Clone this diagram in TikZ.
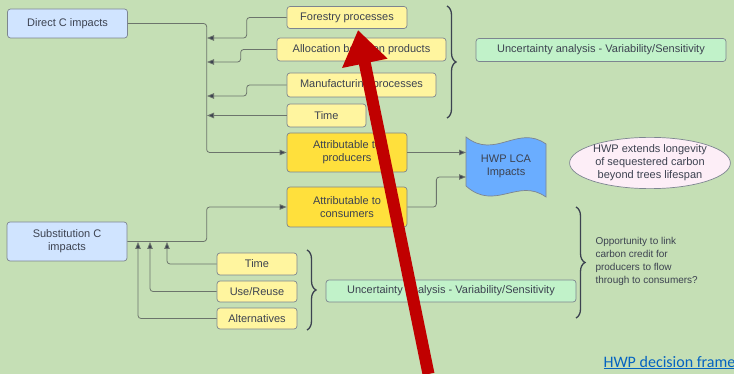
\documentclass[tikz,border=0pt]{standalone}
\usepackage{fontspec}
\setmainfont{Liberation Sans}
\newfontfamily\linkfont{Carlito}
\usetikzlibrary{arrows.meta,positioning,calc,decorations.pathreplacing,shapes.geometric}
\definecolor{cbg}{HTML}{C5DFB5}
\definecolor{ctext}{HTML}{3C4250}
\definecolor{cedge}{HTML}{7D8590}
\definecolor{cline}{HTML}{6C746C}
\definecolor{cblue}{HTML}{D0E4FF}
\definecolor{cyellow}{HTML}{FFF59F}
\definecolor{cgold}{HTML}{FFE03C}
\definecolor{cgreen}{HTML}{C1F2C9}
\definecolor{cwave}{HTML}{6AADFF}
\definecolor{cpink}{HTML}{FDEEF7}
\definecolor{cred}{HTML}{C00000}
\definecolor{clink}{HTML}{0563C1}

\begin{document}
\begin{tikzpicture}[x=1pt,y=-1pt,every node/.style={font=\fontsize{11}{13}\selectfont,text=ctext},
  box/.style={draw=cedge,rounded corners=3pt,line width=0.7pt,align=center,inner sep=0pt},
  impact/.style={box,fill=cblue,minimum width=120pt},
  factor/.style={box,fill=cyellow,minimum height=22pt},
  attrib/.style={box,fill=cgold,minimum width=120pt,minimum height=39pt},
  uncert/.style={box,fill=cgreen,minimum width=250pt,minimum height=22pt},
  conn/.style={draw=cline,line width=0.8pt,rounded corners=3pt},
  arr/.style={-{Triangle[length=7pt,width=5.5pt,fill=ctext]}},
  cbrace/.style={draw=ctext,line width=1.3pt,decorate,decoration={brace,amplitude=9pt}}]
  \useasboundingbox (0,0) rectangle (734,374);
  \fill[cbg] (0,0) rectangle (734,374);
  % left side: impact groups
  \node[impact,minimum height=29pt] (dci) at (67.5,23.5) {Direct C impacts};
  \node[impact,minimum height=39pt] (sci) at (67,241.5) {Substitution C\\impacts};
  % direct factors
  \node[factor,minimum width=120pt] (forest) at (347,17.5) {Forestry processes};
  \node[factor,minimum width=169pt,minimum height=23pt] (alloc) at (361.5,49.5) {Allocation between products};
  \node[factor,minimum width=149pt,minimum height=24pt] (manuf) at (361.5,85) {Manufacturing processes};
  \node[factor,minimum width=79pt,minimum height=23pt] (timeA) at (326.5,115.5) {Time};
  \node[attrib] (prod) at (347,152.5) {Attributable to\\producers};
  \node[attrib,minimum height=40pt] (cons) at (347,207) {Attributable to\\consumers};
  \node[uncert,minimum height=23pt] (uncA) at (601,50) {Uncertainty analysis - Variability/Sensitivity};
  % substitution factors
  \node[factor,minimum width=80pt] (timeB) at (257,264) {Time};
  \node[factor,minimum width=80pt,minimum height=21pt] (reuse) at (257,291.5) {Use/Reuse};
  \node[factor,minimum width=80pt,minimum height=21pt] (alt) at (257,318.5) {Alternatives};
  \node[uncert] (uncB) at (451,291) {Uncertainty analysis - Variability/Sensitivity};
  % output
  \filldraw[fill=cwave,draw=cedge,line width=0.7pt] (466,137) .. controls (495,160) and (518,124) .. (546,144)
    -- (546,197) .. controls (518,177) and (495,212) .. (466,186) -- cycle;
  \node[align=center,minimum width=80pt] (hwp) at (506,166.5) {HWP LCA\\Impacts};
  \node[draw=cedge,fill=cpink,ellipse,line width=0.7pt,minimum width=150pt,minimum height=50pt,inner sep=0pt,align=center] (ell) at (650,163) {HWP extends longevity\\of sequestered carbon\\beyond trees lifespan};
  \node[anchor=west,align=left,font=\fontsize{10}{13}\selectfont] (opp) at (592,261) {Opportunity to link\\carbon credit for\\producers to flow\\through to consumers?};
  \node[anchor=base west,font=\linkfont\fontsize{16}{18}\selectfont,text=clink] (link) at (600,367) {\underline{HWP decision frame}};
  % junctions
  \coordinate (jf) at (207,38); \coordinate (ja) at (207,62); \coordinate (jm) at (207,96); \coordinate (jt) at (207,115.5);
  \coordinate (hA) at (466,152.5); \coordinate (hB) at (466,177);
  \coordinate (st) at (167,242); \coordinate (su) at (150,242); \coordinate (sa) at (138,242);
  % connectors
  \draw[conn,arr] (dci.east) -| ([xshift=-80pt]prod.west) -- (prod.west);
  \draw[conn,arr] (forest.west) -- ++(-40,0) |- (jf);
  \draw[conn,arr] (alloc.west) -- ++(-36,0) |- (ja);
  \draw[conn,arr] (manuf.west) -- ++(-40,0) |- (jm);
  \draw[conn,arr] (timeA.west) -- (jt);
  \draw[conn,arr] (prod.east) -- (hA);
  \draw[conn,arr] (cons.east) -- ++(29,0) |- (hB);
  \draw[conn,arr] (sci.east) -| ([xshift=-80pt]cons.west) -- (cons.west);
  \draw[conn,arr] (timeB.west) -| (st);
  \draw[conn,arr] (reuse.west) -| (su);
  \draw[conn,arr] (alt.west) -| (sa);
  % braces
  \draw[cbrace] (447,6) -- (447,118);
  \draw[cbrace] (307,250) -- (307,330);
  \draw[cbrace] (576,207) -- (576,318);
  % overlay arrow
  \draw[cred,line width=12pt,-{Triangle[length=34pt,width=44pt]}] (428.5,374) -- (358,30);
\end{tikzpicture}
\end{document}
